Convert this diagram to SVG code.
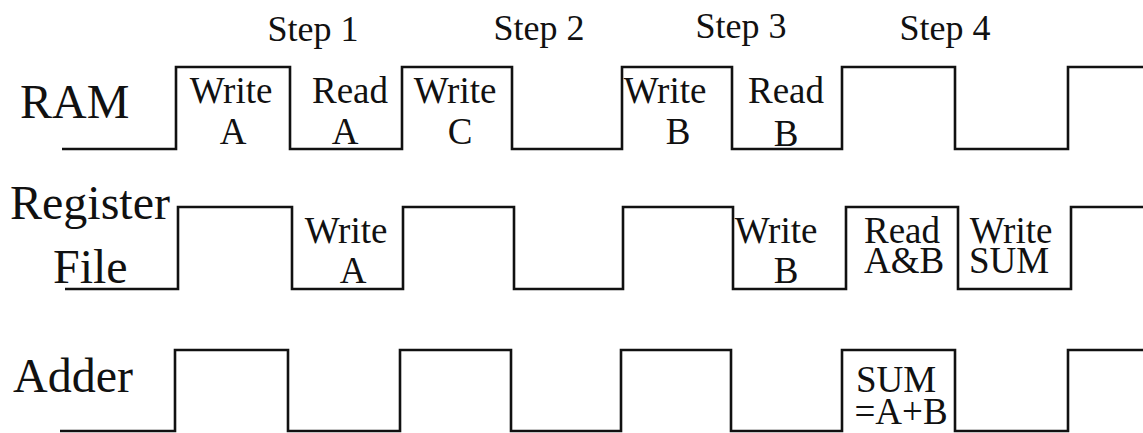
<svg xmlns="http://www.w3.org/2000/svg" width="1143" height="433" viewBox="0 0 1143 433">
<style>
  .wave { fill: none; stroke: #111; stroke-width: 2.6; stroke-linejoin: miter; }
  text { font-family: "Liberation Serif", "Times New Roman", serif; fill: #111; }
  .step { font-size: 36px; text-anchor: middle; }
  .row { font-size: 48px; }
  .lbl { font-size: 37px; text-anchor: middle; }
</style>
<rect width="1143" height="433" fill="#fff"/>
<g id="steps">
  <text class="step" x="313" y="41">Step 1</text>
  <text class="step" x="539" y="40">Step 2</text>
  <text class="step" x="741" y="38">Step 3</text>
  <text class="step" x="945" y="40">Step 4</text>
</g>
<g id="ram">
  <text class="row" x="20" y="118">RAM</text>
  <path class="wave" d="M62,149 H176 V67 H290 V149 H402 V67 H512 V149 H622 V67 H732 V149 H842 V67 H955 V149 H1068 V67 H1143"/>
  <text class="lbl" x="231" y="103">Write</text>
  <text class="lbl" x="233" y="144">A</text>
  <text class="lbl" x="350" y="103">Read</text>
  <text class="lbl" x="345" y="144">A</text>
  <text class="lbl" x="455" y="103">Write</text>
  <text class="lbl" x="460" y="144">C</text>
  <text class="lbl" x="665" y="103">Write</text>
  <text class="lbl" x="678" y="144">B</text>
  <text class="lbl" x="786" y="103">Read</text>
  <text class="lbl" x="786" y="146">B</text>
</g>
<g id="register-file">
  <text class="row" x="10" y="219">Register</text>
  <text class="row" x="53" y="283">File</text>
  <path class="wave" d="M65,289 H178 V207 H292 V289 H403 V207 H514 V289 H623 V207 H733 V289 H846 V207 H958 V289 H1071 V207 H1143"/>
  <text class="lbl" x="346" y="243">Write</text>
  <text class="lbl" x="353" y="283">A</text>
  <text class="lbl" x="776" y="243">Write</text>
  <text class="lbl" x="786" y="283">B</text>
  <text class="lbl" x="902" y="243">Read</text>
  <text class="lbl" x="904" y="273">A&amp;B</text>
  <text class="lbl" x="1011" y="243">Write</text>
  <text class="lbl" x="1009" y="273">SUM</text>
</g>
<g id="adder">
  <text class="row" x="13" y="392">Adder</text>
  <path class="wave" d="M60,431 H175 V350 H288 V431 H400 V350 H511 V431 H621 V350 H731 V431 H842 V350 H955 V431 H1068 V350 H1143"/>
  <text class="lbl" x="896" y="392">SUM</text>
  <text class="lbl" x="901" y="424">=A+B</text>
</g>
</svg>
